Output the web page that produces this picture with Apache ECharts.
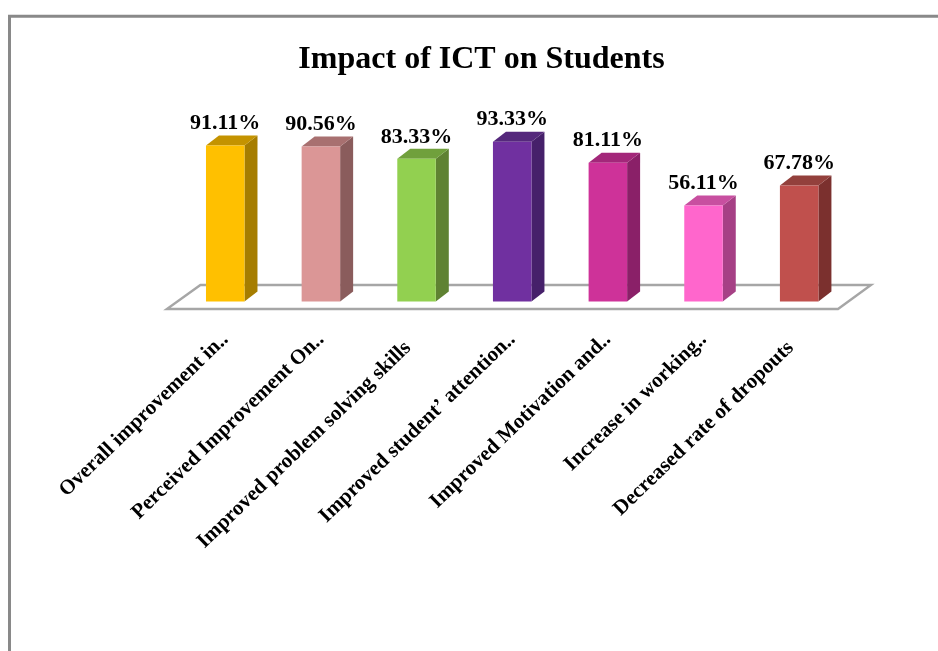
<!DOCTYPE html>
<html><head><meta charset="utf-8">
<style>html,body{margin:0;padding:0;background:#fff}#c{width:938px;height:651px}</style>
<script src="https://cdn.jsdelivr.net/npm/echarts@6/dist/echarts.min.js"></script>
</head><body><div id="c"></div>
<script>
const categories = ["Overall improvement in..","Perceived Improvement On..","Improved problem solving skills","Improved student’ attention..","Improved Motivation and..","Increase in working..","Decreased rate of dropouts"];
const values = [91.11,90.56,83.33,93.33,81.11,56.11,67.78];
const frontColors = ["#FFC000","#DB9696","#92D050","#7030A0","#CE3299","#FF66CC","#C0504D"];
const sideColors = ["#A67D00","#8A5C5C","#5F8232","#46206A","#8A2068","#A64085","#7B302E"];
const topColors = ["#C49300","#A87070","#70A03C","#55287C","#A3277A","#C84FA0","#93403C"];
const font = '"Liberation Serif","Times New Roman",serif';
const chart = echarts.init(document.getElementById('c'));
const DX = 13, DY = 10, BW = 38.5;
chart.setOption({
  animation:false,
  backgroundColor:'#fff',
  title:{text:'Impact of ICT on Students',left:476.5,top:39,textAlign:'center',textStyle:{fontFamily:font,fontWeight:'bold',fontSize:32,color:'#000'}},
  graphic:[
    {type:'polyline',shape:{points:[[9.5,651],[9.5,16.3],[938,16.3]]},style:{stroke:'#898989',lineWidth:3,fill:null}}
  ],
  grid:{left:177.4,width:669.6,top:130.3,height:171.2},
  xAxis:{type:'category',
    data:categories.map(c=>c.endsWith('..')?c:{value:c,textStyle:{padding:[0,12,0,0]}}),
    axisLine:{show:false},axisTick:{show:false},
    axisLabel:{interval:0,rotate:44,margin:35,fontFamily:font,fontWeight:'bold',fontSize:21,color:'#000'}},
  yAxis:{type:'value',min:0,max:100,show:false},
  series:[
   {type:'custom',coordinateSystem:'cartesian2d',silent:true,z:1,data:[[0,0]],
    renderItem(p,api){
      const c=api.coord([0,0]), step=api.size([1,0])[0];
      const l=c[0]-step/2, r=l+step*7, y=c[1];
      return {type:'polygon',shape:{points:[[l-10.5,y+7.5],[r-9,y+7.5],[r+24,y-16.5],[l+23,y-16.5]]},
        style:{fill:'#fff',stroke:'#A6A6A6',lineWidth:2.4}};
    }},
   {type:'custom',coordinateSystem:'cartesian2d',silent:true,z:2,
    data:values.map((v,i)=>[i,v]),
    encode:{x:0,y:1},
    renderItem(p,api){
      const i=api.value(0),v=api.value(1);
      const t=api.coord([i,v]),b=api.coord([i,0]);
      const l=t[0]-BW/2,r=t[0]+BW/2,top=t[1],bot=b[1];
      return {type:'group',children:[
        {type:'polygon',shape:{points:[[r,top],[r+DX,top-DY],[r+DX,bot-DY],[r,bot]]},style:{fill:sideColors[i]}},
        {type:'polygon',shape:{points:[[l,top],[l+DX,top-DY],[r+DX,top-DY],[r,top]]},style:{fill:topColors[i]}},
        {type:'rect',shape:{x:l,y:top,width:BW,height:bot-top},style:{fill:frontColors[i]}},
        {type:'text',style:{text:v.toFixed(2)+'%',x:t[0],y:top-22,align:'center',verticalAlign:'middle',fontFamily:font,fontWeight:'bold',fontSize:22,fill:'#000'}}
      ]};
    }}
  ]
});
</script></body></html>
